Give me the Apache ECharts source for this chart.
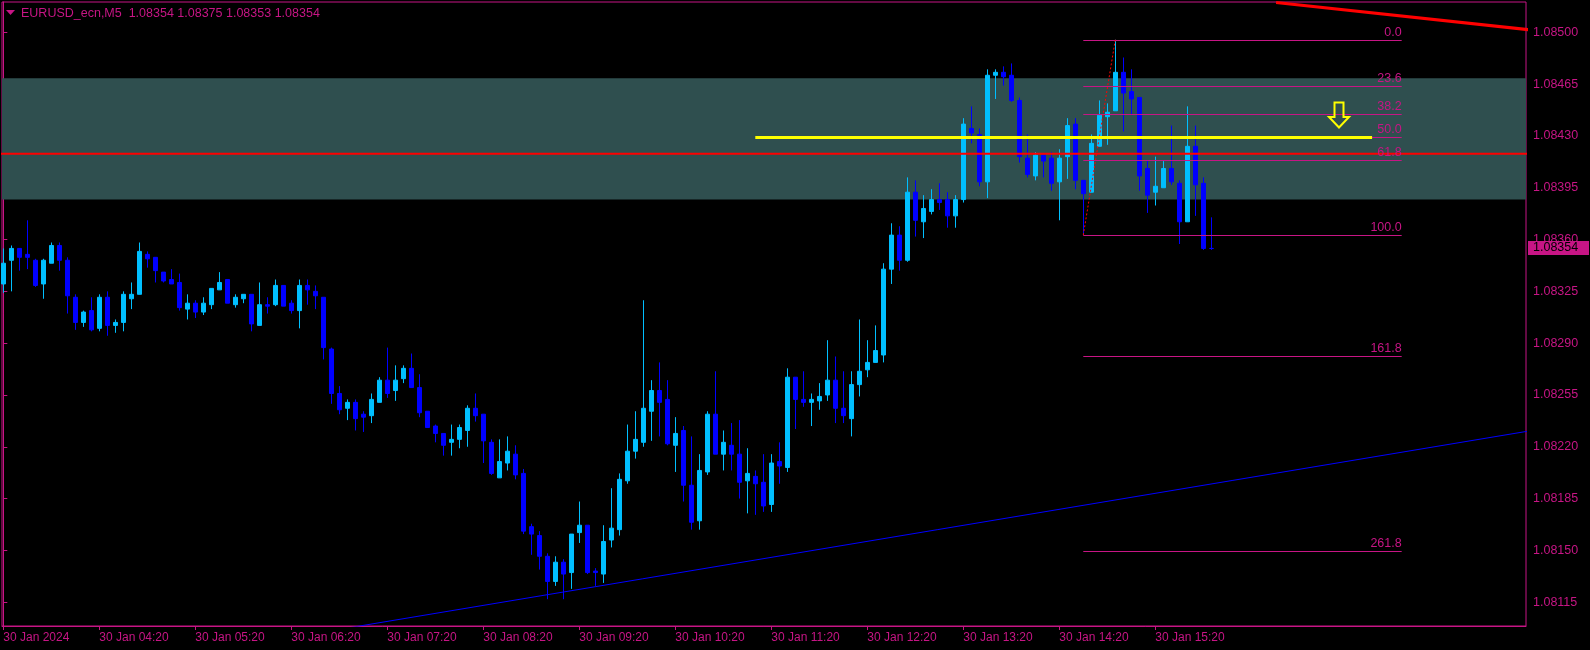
<!DOCTYPE html>
<html><head><meta charset="utf-8">
<style>html,body{margin:0;padding:0;background:#000;}#chart{width:1590px;height:650px;}</style>
<script src="https://cdn.jsdelivr.net/npm/echarts@6/dist/echarts.min.js"></script>
</head><body><div id="chart"></div>
<script>
const symbolName = 'EURUSD_ecn,M5';
const opens = [1.08330,1.08346,1.08354,1.08350,1.08346,1.08330,1.08344,1.08356,1.08346,1.08321,
1.08304,1.08312,1.08300,1.08321,1.08302,1.08304,1.08320,1.08323,1.08350,1.08348,
1.08338,1.08333,1.08331,1.08313,1.08317,1.08311,1.08316,1.08326,1.08333,1.08316,
1.08320,1.08323,1.08302,1.08316,1.08316,1.08329,1.08317,1.08312,1.08329,1.08325,
1.08321,1.08286,1.08256,1.08246,1.08250,1.08242,1.08241,1.08250,1.08265,1.08258,
1.08266,1.08273,1.08260,1.08244,1.08234,1.08229,1.08223,1.08225,1.08231,1.08246,
1.08242,1.08223,1.08199,1.08209,1.08215,1.08202,1.08166,1.08160,1.08146,1.08129,
1.08142,1.08135,1.08162,1.08167,1.08136,1.08134,1.08157,1.08164,1.08197,1.08217,
1.08223,1.08244,1.08258,1.08252,1.08221,1.08231,1.08194,1.08170,1.08203,1.08242,
1.08215,1.08221,1.08215,1.08197,1.08200,1.08196,1.08181,1.08210,1.08206,1.08267,
1.08252,1.08250,1.08251,1.08255,1.08265,1.08246,1.08239,1.08262,1.08272,1.08277,
1.08282,1.08340,1.08363,1.08346,1.08392,1.08372,1.08379,1.08387,1.08387,1.08376,
1.08387,1.08435,1.08431,1.08399,1.08471,1.08473,1.08471,1.08454,1.08415,1.08403,
1.08417,1.08415,1.08399,1.08416,1.08438,1.08400,1.08392,1.08423,1.08443,1.08447,
1.08473,1.08460,1.08456,1.08408,1.08392,1.08395,1.08408,1.08398,1.08372,1.08423,
1.08398,1.08354];
const highs = [1.08354,1.08356,1.08354,1.08373,1.08347,1.08347,1.08358,1.08358,1.08348,1.08323,
1.08312,1.08321,1.08323,1.08325,1.08306,1.08325,1.08331,1.08358,1.08352,1.08348,
1.08338,1.08340,1.08337,1.08323,1.08319,1.08321,1.08327,1.08338,1.08333,1.08323,
1.08323,1.08323,1.08331,1.08321,1.08333,1.08329,1.08319,1.08333,1.08333,1.08329,
1.08321,1.08287,1.08261,1.08252,1.08252,1.08244,1.08256,1.08267,1.08287,1.08275,
1.08275,1.08283,1.08269,1.08244,1.08235,1.08229,1.08235,1.08235,1.08248,1.08256,
1.08242,1.08225,1.08225,1.08227,1.08221,1.08205,1.08168,1.08163,1.08148,1.08146,
1.08144,1.08161,1.08183,1.08167,1.08138,1.08167,1.08192,1.08202,1.08235,1.08244,
1.08319,1.08265,1.08277,1.08265,1.08240,1.08234,1.08227,1.08215,1.08244,1.08271,
1.08231,1.08236,1.08238,1.08219,1.08204,1.08215,1.08215,1.08223,1.08273,1.08267,
1.08271,1.08256,1.08263,1.08292,1.08281,1.08271,1.08271,1.08306,1.08292,1.08302,
1.08344,1.08371,1.08369,1.08402,1.08400,1.08390,1.08394,1.08398,1.08392,1.08390,
1.08442,1.08450,1.08435,1.08475,1.08475,1.08477,1.08479,1.08456,1.08431,1.08419,
1.08417,1.08419,1.08421,1.08442,1.08442,1.08400,1.08431,1.08454,1.08452,1.08495,
1.08483,1.08475,1.08456,1.08413,1.08416,1.08413,1.08437,1.08400,1.08450,1.08437,
1.08402,1.08375];
const lows = [1.08324,1.08325,1.08339,1.08340,1.08328,1.08320,1.08344,1.08339,1.08310,1.08299,
1.08301,1.08298,1.08298,1.08295,1.08297,1.08298,1.08313,1.08323,1.08341,1.08331,
1.08331,1.08330,1.08312,1.08306,1.08307,1.08309,1.08313,1.08326,1.08317,1.08314,
1.08317,1.08298,1.08302,1.08310,1.08315,1.08315,1.08310,1.08300,1.08316,1.08313,
1.08279,1.08249,1.08242,1.08238,1.08231,1.08230,1.08236,1.08250,1.08253,1.08251,
1.08263,1.08260,1.08240,1.08233,1.08223,1.08214,1.08214,1.08219,1.08220,1.08237,
1.08209,1.08201,1.08199,1.08204,1.08198,1.08161,1.08147,1.08137,1.08117,1.08126,
1.08117,1.08124,1.08155,1.08134,1.08126,1.08128,1.08152,1.08160,1.08195,1.08212,
1.08220,1.08224,1.08227,1.08221,1.08203,1.08183,1.08164,1.08164,1.08201,1.08215,
1.08204,1.08204,1.08185,1.08175,1.08174,1.08176,1.08176,1.08195,1.08203,1.08232,
1.08247,1.08234,1.08245,1.08251,1.08236,1.08236,1.08227,1.08254,1.08267,1.08277,
1.08277,1.08330,1.08339,1.08345,1.08362,1.08361,1.08377,1.08380,1.08368,1.08368,
1.08385,1.08425,1.08396,1.08388,1.08455,1.08464,1.08453,1.08412,1.08402,1.08400,
1.08402,1.08393,1.08373,1.08401,1.08394,1.08363,1.08392,1.08423,1.08424,1.08447,
1.08433,1.08444,1.08393,1.08378,1.08383,1.08395,1.08397,1.08357,1.08372,1.08376,
1.08353,1.08353];
const closes = [1.08344,1.08354,1.08348,1.08348,1.08329,1.08346,1.08356,1.08346,1.08322,1.08304,
1.08311,1.08299,1.08321,1.08302,1.08304,1.08323,1.08323,1.08352,1.08347,1.08339,
1.08332,1.08330,1.08314,1.08317,1.08311,1.08317,1.08327,1.08331,1.08317,1.08321,
1.08323,1.08303,1.08316,1.08315,1.08329,1.08315,1.08312,1.08329,1.08326,1.08322,
1.08287,1.08256,1.08245,1.08250,1.08239,1.08240,1.08252,1.08265,1.08256,1.08265,
1.08273,1.08260,1.08243,1.08233,1.08229,1.08221,1.08225,1.08233,1.08246,1.08241,
1.08224,1.08202,1.08210,1.08217,1.08201,1.08163,1.08161,1.08146,1.08129,1.08142,
1.08134,1.08161,1.08167,1.08135,1.08135,1.08156,1.08165,1.08198,1.08217,1.08225,
1.08246,1.08258,1.08250,1.08222,1.08229,1.08194,1.08169,1.08204,1.08242,1.08215,
1.08223,1.08215,1.08196,1.08202,1.08195,1.08180,1.08209,1.08207,1.08267,1.08252,
1.08250,1.08252,1.08254,1.08265,1.08246,1.08241,1.08262,1.08271,1.08277,1.08285,
1.08340,1.08363,1.08346,1.08392,1.08373,1.08381,1.08387,1.08385,1.08376,1.08387,
1.08438,1.08432,1.08399,1.08471,1.08473,1.08470,1.08454,1.08416,1.08404,1.08417,
1.08413,1.08398,1.08415,1.08437,1.08400,1.08391,1.08425,1.08444,1.08446,1.08473,
1.08459,1.08455,1.08403,1.08390,1.08396,1.08408,1.08399,1.08372,1.08423,1.08397,
1.08354,1.08354];
const timeTickBars = [0,12,24,36,48,60,72,84,96,108,120,132,144];
const timeTickLabels = ['30 Jan 2024','30 Jan 04:20','30 Jan 05:20','30 Jan 06:20','30 Jan 07:20','30 Jan 08:20','30 Jan 09:20','30 Jan 10:20','30 Jan 11:20','30 Jan 12:20','30 Jan 13:20','30 Jan 14:20','30 Jan 15:20'];
const priceTicks = [1.08115,1.08150,1.08185,1.08220,1.08255,1.08290,1.08325,1.08360,1.08395,1.08430,1.08465,1.08500];
const zoneTop = 1.08469;
const zoneBottom = 1.08387;
const redLevel = 1.08418;
const yellowLine = [[94, 1.08429], [171.1, 1.08429]];
const blueTrend = [[40, 1.080948], [191, 1.082309]];
const redTrend = [[159.1, 1.085202], [191, 1.085016]];
const fibAnchor = [[135, 1.08363], [139, 1.08495]];
const fibLevels = [0, 23.6, 38.2, 50, 61.8, 100, 161.8, 261.8];
const fibEndBar = 174.8;
const arrowPoint = [167, 1.08444];
const lastBar = 151;

const MAG = '#C71585';
const FONT = '"Liberation Sans", Arial, sans-serif';
const candleData = opens.map((o, i) => [i, o, closes[i], lows[i], highs[i]]);
const fibLow = fibAnchor[0][1], fibHigh = fibAnchor[1][1];
const lastPrice = closes[lastBar];
const titleText = symbolName + '  ' + [opens[lastBar], highs[lastBar], lows[lastBar], closes[lastBar]].map(v => v.toFixed(5)).join(' ');

function lineSeries(data, color, width, type, z) {
  return {type: 'line', data, symbol: 'none', silent: true, animation: false, z, clip: true,
          lineStyle: {color, width, type}};
}

const chart = echarts.init(document.getElementById('chart'), null, {renderer: 'canvas'});
chart.setOption({
  backgroundColor: '#000000',
  animation: false,
  graphic: [
    {type: 'polygon', shape: {points: [[6, 10], [15, 10], [10.5, 15]]}, style: {fill: MAG}},
    {type: 'text', left: 21, top: 7, style: {text: titleText, fill: MAG, font: '12.5px ' + FONT}}
  ],
  grid: {left: 2, top: 2, right: 64, bottom: 24, show: true, borderColor: MAG, borderWidth: 1, backgroundColor: '#000'},
  xAxis: {
    type: 'value', min: -0.1625, max: 190.34, splitLine: {show: false},
    axisLine: {show: true, lineStyle: {color: MAG, width: 1}},
    axisTick: {show: true, customValues: timeTickBars, length: 4, lineStyle: {color: MAG}},
    axisLabel: {customValues: timeTickBars, formatter: v => timeTickLabels[timeTickBars.indexOf(v)] || '',
                align: 'left', color: MAG, fontSize: 12, fontFamily: FONT, margin: 6}
  },
  yAxis: {
    type: 'value', position: 'right', min: 1.080989, max: 1.085205, scale: true, splitLine: {show: false},
    axisLine: {show: true, lineStyle: {color: MAG, width: 1}},
    axisTick: {show: true, customValues: priceTicks, length: 4, lineStyle: {color: MAG}},
    axisLabel: {customValues: priceTicks, formatter: v => v.toFixed(5), color: MAG, fontSize: 12.5, fontFamily: FONT, margin: 7}
  },
  series: [
    {type: 'line', data: [], z: 0, silent: true,
     markArea: {silent: true, itemStyle: {color: '#2F4F4F'}, data: [[{yAxis: zoneTop}, {yAxis: zoneBottom}]]}},
    {type: 'candlestick', data: candleData, encode: {x: 0, y: [1, 2, 3, 4]}, barWidth: 4, z: 2, silent: true, animation: false,
     itemStyle: {color: '#00BFFF', color0: '#0000FF', borderColor: '#00BFFF', borderColor0: '#0000FF', borderColorDoji: '#0000FF', borderWidth: 1}},
    lineSeries([[-1, redLevel], [192, redLevel]], '#FF0000', 2, 'solid', 3),
    lineSeries(blueTrend, '#0000FF', 1, 'solid', 3),
    lineSeries(redTrend, '#FF0000', 3, 'solid', 3),
    lineSeries(fibAnchor, '#FF0000', 1, [2, 2], 4),
    {type: 'custom', z: 4, silent: true, animation: false, clip: false,
     data: fibLevels.map(l => [l]),
     renderItem: (params, api) => {
       const lvl = api.value(0);
       const p = fibHigh - lvl / 100 * (fibHigh - fibLow);
       const a = api.coord([fibAnchor[0][0], p]);
       const b = api.coord([fibEndBar, p]);
       const y = Math.round(a[1]) + 0.5;
       return {type: 'group', children: [
         {type: 'line', shape: {x1: a[0], y1: y, x2: b[0], y2: y}, style: {stroke: MAG, lineWidth: 1}},
         {type: 'text', style: {x: b[0], y: y - 1, text: lvl.toFixed(1), align: 'right', verticalAlign: 'bottom', fill: MAG, font: '12.5px ' + FONT}}
       ]};
     }},
    lineSeries(yellowLine, '#FFFF00', 3, 'solid', 5),
    {type: 'custom', z: 5, silent: true, animation: false, clip: false,
     data: [arrowPoint],
     renderItem: (params, api) => {
       const c = api.coord([api.value(0), api.value(1)]);
       const x = Math.round(c[0]), y = Math.round(c[1]);
       const pts = [[x - 4.5, y - 12.5], [x + 4.5, y - 12.5], [x + 4.5, y + 2], [x + 10, y + 2], [x, y + 12.5], [x - 10, y + 2], [x - 4.5, y + 2]];
       return {type: 'polygon', shape: {points: pts}, style: {fill: 'none', stroke: '#FFFF00', lineWidth: 2}};
     }},
    {type: 'custom', z: 6, silent: true, animation: false, clip: false,
     data: [[lastBar, lastPrice]],
     renderItem: (params, api) => {
       const c = api.coord([api.value(0), api.value(1)]);
       const cs = params.coordSys;
       const x0 = cs.x + cs.width + 2;
       const y = Math.round(c[1]);
       return {type: 'group', children: [
         {type: 'rect', shape: {x: x0, y: y - 7, width: 1589 - x0, height: 14}, style: {fill: MAG}},
         {type: 'text', style: {x: x0 + 5, y: y, text: api.value(1).toFixed(5), align: 'left', verticalAlign: 'middle', fill: '#000', font: '12.5px ' + FONT}}
       ]};
     }}
  ]
});
</script>
</body></html>
